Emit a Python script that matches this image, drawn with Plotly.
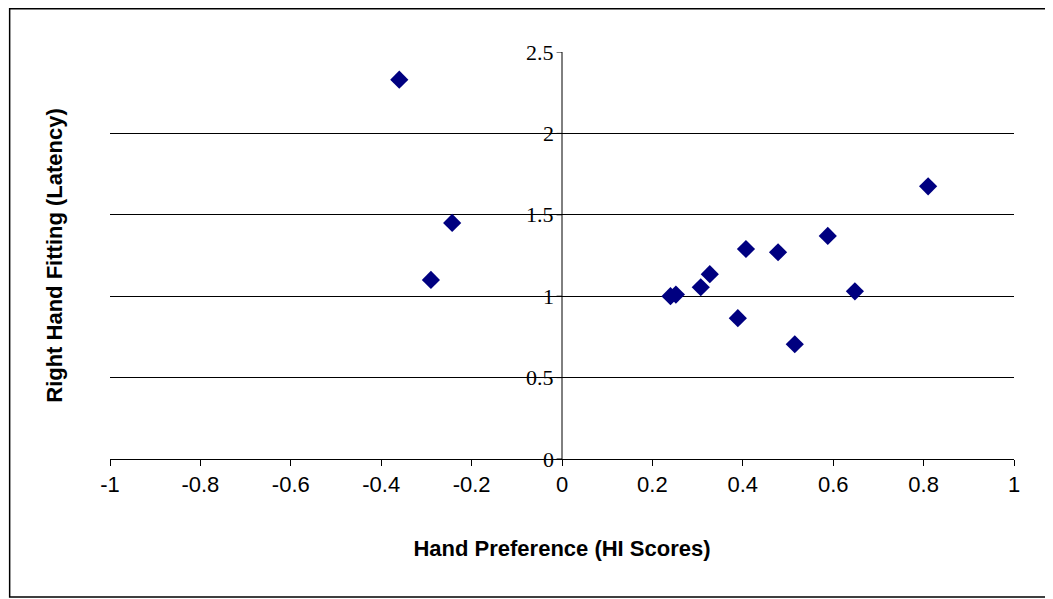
import plotly.graph_objects as go

hi_scores = [-0.36, -0.29, -0.243, 0.24, 0.252, 0.307, 0.327, 0.389, 0.407, 0.478, 0.515, 0.588, 0.648, 0.81]
latency = [2.33, 1.10, 1.45, 1.0, 1.01, 1.055, 1.135, 0.865, 1.29, 1.27, 0.705, 1.37, 1.03, 1.675]
x_ticks = [-1, -0.8, -0.6, -0.4, -0.2, 0, 0.2, 0.4, 0.6, 0.8, 1]
y_ticks = [0, 0.5, 1, 1.5, 2, 2.5]

fig = go.Figure(go.Scatter(x=hi_scores, y=latency, mode="markers",
    marker=dict(symbol="diamond", size=14, color="#000080", line=dict(width=0))))

shapes = [dict(type="rect", xref="paper", yref="paper", x0=-0.111, x1=1.038, y0=-0.339, y1=1.106,
               line=dict(color="black", width=1.5)),
          dict(type="line", x0=0, x1=0, y0=0, y1=2.5, line=dict(color="black", width=1))]
annotations = []
for t in y_ticks:
    shapes.append(dict(type="line", x0=-0.012, x1=0, y0=t, y1=t, line=dict(color="black", width=1)))
    annotations.append(dict(x=0, y=t, xref="x", yref="y", text=f"{t:g}", showarrow=False,
                            xanchor="right", xshift=-6, font=dict(family="Liberation Serif", size=22, color="black")))

fig.update_layout(
    width=1053, height=599, paper_bgcolor="white", plot_bgcolor="white",
    margin=dict(l=102, r=47, t=44, b=148), showlegend=False,
    shapes=shapes, annotations=annotations,
    xaxis=dict(range=[-1, 1], tickvals=x_ticks, ticktext=[f"{t:g}" for t in x_ticks],
               showgrid=False, zeroline=False, showline=True, linecolor="black", ticks="outside",
               ticklen=6, tickcolor="black", tickfont=dict(family="Liberation Sans", size=22, color="black"),
               title=dict(text="<b>Hand Preference (HI Scores)</b>", standoff=44,
                          font=dict(family="Liberation Sans", size=22, color="black"))),
    yaxis=dict(range=[0, 2.5], tickvals=y_ticks, showticklabels=False, showgrid=True,
               gridcolor="black", gridwidth=1, zeroline=False, showline=False,
               title=dict(text="<b>Right Hand Fitting (Latency)</b>", standoff=40,
                          font=dict(family="Liberation Sans", size=22, color="black"))),
)
fig.write_html("out.html")
